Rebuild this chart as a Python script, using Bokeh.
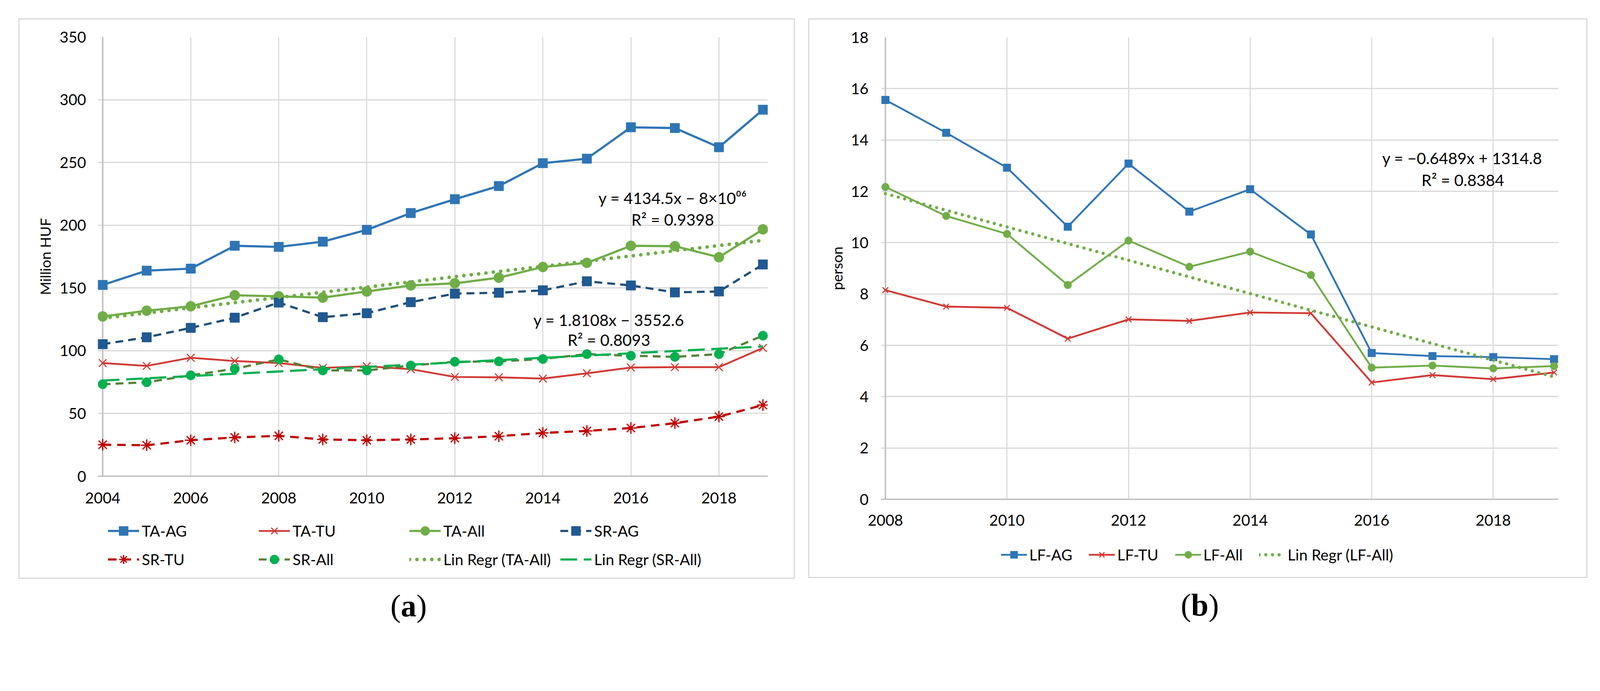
from bokeh.plotting import figure
from bokeh.models import Range1d, FixedTicker, Legend, LegendItem, Span, Label, Div, Spacer
from bokeh.layouts import row, column
from bokeh.embed import file_html
from bokeh.resources import INLINE

# ---------------- data ----------------
years_a = list(range(2004, 2020))
ta_ag = [152.4, 163.8, 165.4, 183.6, 182.7, 186.9, 196.3, 209.7, 220.7, 231.2, 249.4, 253.0, 278.0, 277.4, 262.1, 292.0]
ta_tu = [90.2, 87.9, 94.4, 91.8, 90.2, 86.3, 87.6, 85.3, 79.1, 78.8, 77.8, 82.0, 86.6, 86.9, 86.9, 102.2]
ta_all = [127.3, 131.9, 135.4, 144.2, 143.3, 142.3, 147.2, 152.0, 153.7, 158.2, 166.7, 170.0, 183.6, 183.3, 174.5, 196.7]
sr_ag = [105.2, 110.7, 118.2, 126.3, 138.4, 126.7, 129.9, 138.7, 145.5, 146.2, 148.1, 155.3, 152.0, 146.5, 147.2, 168.7]
sr_tu = [25.1, 24.7, 28.7, 30.9, 32.2, 29.3, 28.7, 29.3, 30.3, 31.9, 34.5, 36.1, 38.4, 42.3, 47.5, 56.7]
sr_all = [73.3, 74.9, 80.4, 85.6, 93.1, 84.3, 84.3, 88.2, 91.2, 91.5, 93.4, 97.3, 96.0, 95.1, 97.3, 112.0]
trend_years_a = [2004, 2019]
trend_ta_all = [125.9, 187.9]
trend_sr_all = [76.2, 103.4]
x_ticks_a = [2004, 2006, 2008, 2010, 2012, 2014, 2016, 2018]
y_ticks_a = [0, 50, 100, 150, 200, 250, 300, 350]

years_b = list(range(2008, 2020))
lf_ag = [15.56, 14.28, 12.92, 10.62, 13.08, 11.21, 12.08, 10.32, 5.70, 5.58, 5.54, 5.46]
lf_tu = [8.15, 7.51, 7.46, 6.26, 7.01, 6.95, 7.28, 7.25, 4.55, 4.84, 4.68, 4.94]
lf_all = [12.17, 11.04, 10.34, 8.35, 10.08, 9.06, 9.65, 8.74, 5.13, 5.21, 5.10, 5.19]
trend_years_b = [2008, 2019]
trend_lf_all = [11.91, 4.77]
x_ticks_b = [2008, 2010, 2012, 2014, 2016, 2018]
y_ticks_b = [0, 2, 4, 6, 8, 10, 12, 14, 16, 18]

SERIES = {
    "TA-AG": (years_a, ta_ag), "TA-TU": (years_a, ta_tu), "TA-All": (years_a, ta_all),
    "SR-AG": (years_a, sr_ag), "SR-TU": (years_a, sr_tu), "SR-All": (years_a, sr_all),
    "Lin Regr (TA-All)": (trend_years_a, trend_ta_all), "Lin Regr (SR-All)": (trend_years_a, trend_sr_all),
    "LF-AG": (years_b, lf_ag), "LF-TU": (years_b, lf_tu), "LF-All": (years_b, lf_all),
    "Lin Regr (LF-All)": (trend_years_b, trend_lf_all),
}

# the page is rendered ~1.078x larger than CSS px; geometry below is in screenshot px
S = 0.928


def px(v):
    return int(round(v * S))


def fs(v):
    return f"{v * S:.1f}px"


FONT = "Lato"
GRID = "#d9d9d9"
AXIS = "#bfbfbf"
BLUE = "#2E75B6"
DBLUE = "#1F4E79"
RED = "#D13A35"
DRED = "#C00000"
GREEN = "#70AD47"
OLIVE = "#548235"
BGREEN = "#00B050"

# series styles (line, marker)
ST = {
    "TA-AG": (dict(line_color=BLUE, line_width=6 * S),
              dict(marker="square", size=26 * S, fill_color=BLUE, line_color=BLUE)),
    "TA-TU": (dict(line_color=RED, line_width=5 * S),
              dict(marker="x", size=30 * S, line_color=RED, line_width=3 * S)),
    "TA-All": (dict(line_color=GREEN, line_width=6 * S),
               dict(marker="circle", size=28 * S, fill_color=GREEN, line_color=GREEN)),
    "SR-AG": (dict(line_color=DBLUE, line_width=6 * S, line_dash=f"{px(22)} {px(14)}"),
              dict(marker="square", size=26 * S, fill_color="#1F5A94", line_color=DBLUE)),
    "SR-TU": (dict(line_color=DRED, line_width=6 * S, line_dash=f"{px(24)} {px(16)}"),
              dict(marker="asterisk", size=32 * S, line_color=DRED, line_width=3.5 * S)),
    "SR-All": (dict(line_color=OLIVE, line_width=6 * S, line_dash=f"{px(22)} {px(14)}"),
               dict(marker="circle", size=26 * S, fill_color=BGREEN, line_color=BGREEN)),
    "Lin Regr (TA-All)": (dict(line_color=GREEN, line_width=10 * S, line_dash=f"0 {px(21)}", line_cap="round"), None),
    "Lin Regr (SR-All)": (dict(line_color=BGREEN, line_width=6 * S, line_dash=f"{px(46)} {px(18)}"), None),
    "LF-AG": (dict(line_color=BLUE, line_width=5 * S),
              dict(marker="square", size=21 * S, fill_color=BLUE, line_color=BLUE)),
    "LF-TU": (dict(line_color=RED, line_width=5 * S),
              dict(marker="x", size=22 * S, line_color=RED, line_width=3 * S)),
    "LF-All": (dict(line_color=GREEN, line_width=5 * S),
               dict(marker="circle", size=21 * S, fill_color=GREEN, line_color=GREEN)),
    "Lin Regr (LF-All)": (dict(line_color=GREEN, line_width=9 * S, line_dash=f"0 {px(18)}", line_cap="round"), None),
}


def style(p, x_ticks, y_ticks, ylabel, ylab_standoff, xstandoff, ystandoff):
    p.outline_line_color = None
    p.background_fill_color = "white"
    p.border_fill_color = "white"
    p.xaxis.ticker = FixedTicker(ticks=x_ticks)
    p.yaxis.ticker = FixedTicker(ticks=y_ticks)
    p.xgrid.ticker = FixedTicker(ticks=x_ticks)
    p.ygrid.ticker = FixedTicker(ticks=y_ticks)
    for g in (p.xgrid, p.ygrid):
        g.grid_line_color = GRID
        g.grid_line_width = 3 * S
    for ax in p.axis:
        ax.major_tick_line_color = None
        ax.minor_tick_line_color = None
        ax.major_tick_out = 0
        ax.major_tick_in = 0
        ax.major_label_text_font = FONT
        ax.major_label_text_font_size = fs(42)
        ax.major_label_text_color = "black"
    p.xaxis.axis_line_color = AXIS
    p.xaxis.axis_line_width = 4 * S
    p.yaxis.axis_line_color = None
    p.xaxis.major_label_standoff = px(xstandoff)
    p.yaxis.major_label_standoff = px(ystandoff)
    p.yaxis.axis_label = ylabel
    p.yaxis.axis_label_text_font = FONT
    p.yaxis.axis_label_text_font_size = fs(40)
    p.yaxis.axis_label_text_font_style = "normal"
    p.yaxis.axis_label_text_color = "black"
    p.yaxis.axis_label_standoff = px(ylab_standoff)


def plot_series(p, name):
    xs, ys = SERIES[name]
    ls, ms = ST[name]
    rs = [p.line(xs, ys, **ls)]
    if ms is not None:
        rs.append(p.scatter(xs, ys, **ms))
    return rs


def legend_fig(w, h, bl, br):
    # frame spans (0,1): the series drawn here fall outside it and only feed the legend swatches
    f = figure(width=px(w), height=px(h), x_range=Range1d(0, 1), y_range=Range1d(0, 1),
               x_axis_type=None, y_axis_type=None, output_backend="svg", toolbar_location=None,
               min_border_left=px(bl), min_border_right=px(br), min_border_top=0, min_border_bottom=0)
    f.outline_line_color = None
    f.background_fill_color = "white"
    f.border_fill_color = "white"
    return f


def legend_row(f, names, x, y, gw, gh, sp, lw, standoff):
    items = [LegendItem(label=n, renderers=plot_series(f, n)) for n in names]
    f.add_layout(Legend(items=items, location=(px(x), px(y)), orientation="horizontal",
                        glyph_width=px(gw), glyph_height=px(gh), label_height=px(gh), label_width=px(lw),
                        label_standoff=px(standoff), spacing=px(sp), padding=0, margin=0,
                        border_line_color=None, background_fill_alpha=0,
                        label_text_font=FONT, label_text_font_size=fs(42), label_text_color="black"))


def add_labels(p, specs):
    for txt, x, y in specs:
        p.add_layout(Label(x=x, y=y, text=txt, text_font=FONT, text_font_size=fs(44),
                           text_align="center", text_baseline="middle", text_color="black"))


FRAME = {"outline": f"{4 * S:.1f}px solid #d9d9d9"}

# ---------------- panel (a) ----------------
pad_a = 0.11
pa = figure(width=px(2136), height=px(1358), x_range=Range1d(2004 - pad_a, 2019 + pad_a), y_range=Range1d(0, 350),
            output_backend="svg", toolbar_location=None,
            min_border_left=px(216), min_border_right=px(72), min_border_top=px(47), min_border_bottom=px(99))
style(pa, x_ticks_a, y_ticks_a, "Million HUF", 13, 44, 32)
pa.add_layout(Span(location=2004, dimension="height", line_color=AXIS, line_width=4 * S, level="underlay"))
for n in ["TA-AG", "TA-TU", "TA-All", "SR-AG", "SR-TU", "SR-All", "Lin Regr (TA-All)", "Lin Regr (SR-All)"]:
    plot_series(pa, n)
add_labels(pa, [("y = 4134.5x \u2212 8\u00d710\u2070\u2076", 2016.95, 221.8),
                ("R\u00b2 = 0.9398", 2016.95, 204.7),
                ("y = 1.8108x \u2212 3552.6", 2015.5, 124.7),
                ("R\u00b2 = 0.8093", 2015.5, 108.6)])

lega = legend_fig(2136, 181, 216, 72)
legend_row(lega, ["TA-AG", "TA-TU", "TA-All", "SR-AG"], 28, 98.5, 86, 63, 23, 300, 8)
legend_row(lega, ["SR-TU", "SR-All", "Lin Regr (TA-All)", "Lin Regr (SR-All)"], 28, 19.5, 86, 63, 23, 300, 8)

# ---------------- panel (b) ----------------
pad_b = 0.0716
pb = figure(width=px(2143), height=px(1418), x_range=Range1d(2008 - pad_b, 2019 + pad_b), y_range=Range1d(0, 18),
            output_backend="svg", toolbar_location=None,
            min_border_left=px(197), min_border_right=px(78), min_border_top=px(48), min_border_bottom=px(96))
style(pb, x_ticks_b, y_ticks_b, "person", 11, 42, 35)
pb.add_layout(Span(location=2008, dimension="height", line_color=AXIS, line_width=4 * S, level="underlay"))
for n in ["LF-AG", "LF-TU", "LF-All", "Lin Regr (LF-All)"]:
    plot_series(pb, n)
add_labels(pb, [("y = \u22120.6489x + 1314.8", 2017.49, 13.29),
                ("R\u00b2 = 0.8384", 2017.5, 12.44)])

legb = legend_fig(2143, 118, 197, 78)
legend_row(legb, ["LF-AG", "LF-TU", "LF-All", "Lin Regr (LF-All)"], 331, 37, 72, 50, 45, 0, 6)

# ---------------- captions & layout ----------------
cap_style = {"text-align": "center", "font-family": "Liberation Serif", "font-size": fs(86),
             "line-height": "1", "padding-top": fs(30), "color": "black"}
cap_a = Div(text="(<b>a</b>)", width=px(2136), height=px(140), styles=cap_style)
cap_b = Div(text="(<b>b</b>)", width=px(2143), height=px(140), styles=cap_style)

box_a = column(pa, lega, styles=FRAME)
box_b = column(pb, legb, styles=FRAME)

page = column(Spacer(height=px(62) - 8),
              row(Spacer(width=px(63) - 8), column(box_a, cap_a), Spacer(width=px(32)), column(box_b, cap_b)))

open("out.html", "w").write(file_html(page, INLINE))
